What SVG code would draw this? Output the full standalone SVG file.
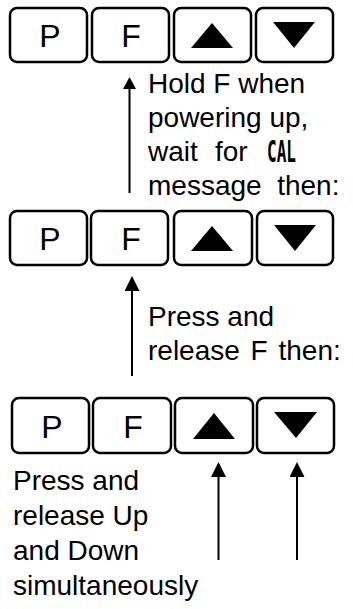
<svg xmlns="http://www.w3.org/2000/svg" width="353" height="609" viewBox="0 0 353 609">
<style>
.key{fill:#fff;stroke:#000;stroke-width:2.5}
.lbl{font-family:"Liberation Sans",Arial,sans-serif;font-size:32px;fill:#000;text-anchor:middle}
.tri{fill:#000}
.txt{font-family:"Liberation Sans",Arial,sans-serif;font-size:28px;fill:#000}
.seg{font-family:"DejaVu Sans Mono","Liberation Mono",monospace;font-weight:bold;font-size:30px;fill:#000}
.arr{stroke:#000;stroke-width:2;fill:none;marker-end:url(#head)}
.arrS{stroke:#000;stroke-width:2;fill:none;marker-end:url(#headS)}
</style>
<defs>
<marker id="head" markerUnits="userSpaceOnUse" markerWidth="15" markerHeight="15" refX="0" refY="7.5" orient="auto" viewBox="0 0 15 15">
<path d="M0,0 L15,7.5 L0,15 z" fill="#000"/>
</marker>
<marker id="headS" markerUnits="userSpaceOnUse" markerWidth="12" markerHeight="13" refX="0" refY="6.5" orient="auto" viewBox="0 0 12 13">
<path d="M0,0 L12,6.5 L0,13 z" fill="#000"/>
</marker>
</defs>

<g id="row1">
<g id="r1-p"><rect class="key" x="10" y="8" width="77" height="54" rx="7"/><text class="lbl" x="50" y="47">P</text></g>
<g id="r1-f"><rect class="key" x="92" y="8" width="77" height="54" rx="7"/><text class="lbl" x="131" y="47">F</text></g>
<g id="r1-up"><rect class="key" x="174" y="8" width="77" height="54" rx="7"/><polygon class="tri" points="212,23 191,48 233,48"/></g>
<g id="r1-down"><rect class="key" x="256" y="8" width="77" height="54" rx="7"/><polygon class="tri" points="273,22 315,22 294,48"/></g>
</g>

<g id="row2">
<g id="r2-p"><rect class="key" x="10" y="211" width="77" height="54" rx="7"/><text class="lbl" x="50" y="250">P</text></g>
<g id="r2-f"><rect class="key" x="91" y="211" width="77" height="54" rx="7"/><text class="lbl" x="131" y="250">F</text></g>
<g id="r2-up"><rect class="key" x="174" y="211" width="78" height="54" rx="7"/><polygon class="tri" points="212,226 191,251 233,251"/></g>
<g id="r2-down"><rect class="key" x="257" y="211" width="76" height="54" rx="7"/><polygon class="tri" points="274,225 316,225 295,251"/></g>
</g>

<g id="row3">
<g id="r3-p"><rect class="key" x="12" y="398" width="77" height="55" rx="7"/><text class="lbl" x="52" y="438">P</text></g>
<g id="r3-f"><rect class="key" x="93" y="398" width="78" height="55" rx="7"/><text class="lbl" x="133" y="438">F</text></g>
<g id="r3-up"><rect class="key" x="175" y="398" width="78" height="55" rx="7"/><polygon class="tri" points="214,413 193,439 235,439"/></g>
<g id="r3-down"><rect class="key" x="257" y="398" width="77" height="55" rx="7"/><polygon class="tri" points="274,412 317,412 296,438"/></g>
</g>

<g id="connectors">
<line class="arrS" x1="129.5" y1="193" x2="129.5" y2="89"/>
<line class="arr" x1="132" y1="376" x2="132" y2="291"/>
<line class="arr" x1="218.5" y1="560" x2="218.5" y2="477"/>
<line class="arr" x1="297" y1="560" x2="297" y2="477"/>
</g>

<g id="note1">
<text class="txt" x="148" y="93">Hold F when</text>
<text class="txt" x="148" y="127">powering up,</text>
<text class="txt" x="148" y="161">wait <tspan x="215">for</tspan></text>
<text class="seg" x="267" y="162" textLength="29" lengthAdjust="spacingAndGlyphs">CAL</text>
<text class="txt" x="148" y="195" xml:space="preserve">message  then:</text>
</g>

<g id="note2">
<text class="txt" x="148" y="326">Press and</text>
<text class="txt" x="148" y="360" word-spacing="3">release F then:</text>
</g>

<g id="note3">
<text class="txt" x="13" y="490">Press and</text>
<text class="txt" x="13" y="525">release Up</text>
<text class="txt" x="13" y="560">and Down</text>
<text class="txt" x="13" y="595">simultaneously</text>
</g>
</svg>
